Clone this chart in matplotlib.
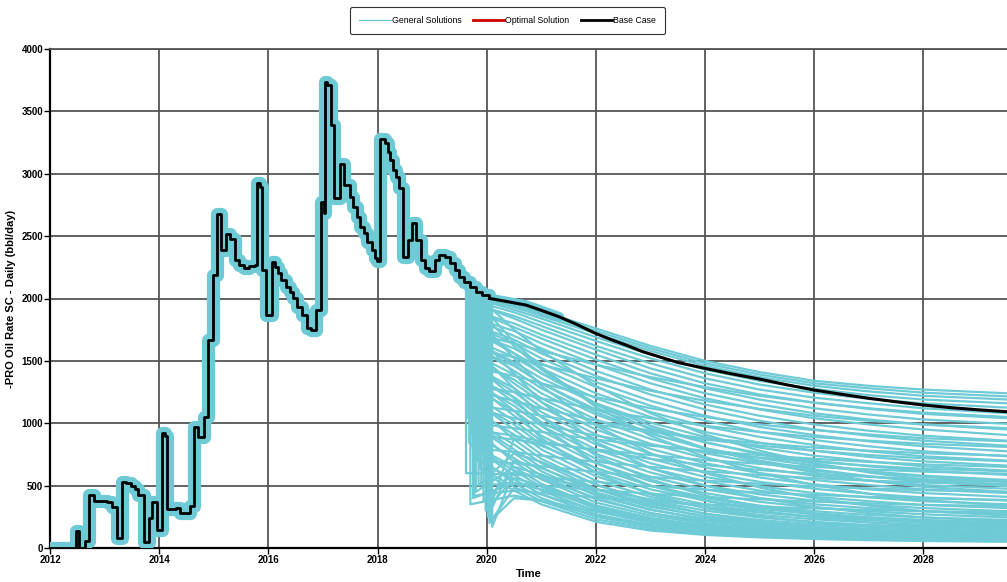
import numpy as np
import matplotlib
matplotlib.use("Agg")
import matplotlib.pyplot as plt
from matplotlib.lines import Line2D

# ---------------- data ----------------
HIST_YEARS = [2012.00, 2012.48, 2012.54, 2012.64, 2012.72, 2012.80, 2013.04, 2013.13, 2013.22, 2013.31,
              2013.40, 2013.48, 2013.55, 2013.62, 2013.72, 2013.81, 2013.87, 2013.96, 2014.05, 2014.10,
              2014.15, 2014.30, 2014.38, 2014.45, 2014.56, 2014.64, 2014.71, 2014.82, 2014.90, 2014.98,
              2015.05, 2015.14, 2015.22, 2015.29, 2015.38, 2015.47, 2015.56, 2015.65, 2015.75, 2015.79,
              2015.84, 2015.89, 2015.96, 2016.06, 2016.12, 2016.18, 2016.24, 2016.32, 2016.40, 2016.46,
              2016.52, 2016.61, 2016.70, 2016.79, 2016.88, 2016.97, 2017.01, 2017.03, 2017.08, 2017.14,
              2017.21, 2017.31, 2017.38, 2017.49, 2017.55, 2017.62, 2017.68, 2017.76, 2017.80, 2017.89,
              2017.95, 2017.99, 2018.04, 2018.13, 2018.19, 2018.23, 2018.29, 2018.34, 2018.40, 2018.46,
              2018.56, 2018.64, 2018.71, 2018.80, 2018.86, 2018.94, 2019.06, 2019.13, 2019.23, 2019.32,
              2019.41, 2019.50, 2019.59, 2019.70, 2019.81, 2019.92, 2020.05]
HIST_RATE = [0, 140, 0, 56, 425, 378, 370, 330, 80, 530,
             520, 500, 475, 425, 50, 240, 370, 144, 920, 900,
             312, 320, 283, 280, 336, 972, 890, 1052, 1667, 2188,
             2676, 2388, 2516, 2476, 2308, 2268, 2246, 2260, 2268, 2927,
             2895, 2228, 1867, 2294, 2254, 2203, 2147, 2094, 2054, 2003,
             1934, 1867, 1760, 1747, 1907, 2775, 2684, 3737, 3710, 3389,
             2802, 3082, 2909, 2815, 2735, 2655, 2575, 2524, 2455, 2388,
             2321, 2300, 3275, 3243, 3176, 3109, 3029, 2975, 2882, 2334,
             2468, 2602, 2468, 2308, 2241, 2220, 2308, 2348, 2334, 2281,
             2228, 2174, 2134, 2094, 2054, 2030, 2001]

BASE_FC_YEARS = [2020.05, 2020.25, 2020.50, 2020.72, 2021.00, 2021.33, 2021.66, 2021.97, 2022.25, 2022.55,
                 2022.85, 2023.16, 2023.50, 2024.00, 2024.50, 2025.00, 2025.50, 2026.00, 2026.50, 2027.00,
                 2027.50, 2028.00, 2028.50, 2029.00, 2029.55]
BASE_FC_RATE = [2001, 1985, 1965, 1947, 1905, 1853, 1790, 1725, 1675, 1627,
                1575, 1533, 1487, 1440, 1395, 1354, 1308, 1266, 1232, 1200,
                1172, 1146, 1125, 1108, 1092]

# general solutions: year each leaves the history, rate right after leaving,
# then rates at GEN_YEARS
GEN_YEARS = [2020.5, 2021, 2022, 2023, 2024, 2025, 2026, 2027, 2028, 2029.55]
GEN_BRANCH = [2020.00, 2019.97, 2019.93, 2019.88, 2019.84, 2019.80, 2019.95, 2019.76, 2019.90, 2019.72,
              2019.86, 2019.68, 2019.82, 2019.65, 2019.92, 2019.70, 2019.78, 2019.64, 2019.88, 2019.74,
              2019.66, 2019.96, 2019.69, 2019.80, 2019.63, 2019.85, 2019.72, 2019.67, 2019.90, 2019.75,
              2019.64, 2019.83, 2019.70, 2019.94, 2019.66, 2019.78, 2019.87, 2019.73, 2019.98, 2019.68,
              2019.81, 2019.92, 2019.76, 2020.00, 2019.88, 2019.96, 2020.05, 2020.10, 2019.98, 2020.02,
              2019.75, 2019.80, 2019.70, 2019.85,
              2019.64, 2019.71, 2019.79, 2019.86, 2019.93, 2019.67, 2019.74, 2019.82, 2019.62, 2019.90,
              2019.77, 2019.69, 2019.84, 2019.95, 2019.73,
              2019.99, 2019.91, 2019.83, 2019.78, 2020.01, 2019.71, 2019.65, 2019.96, 2019.87, 2019.80,
              2020.03, 2020.07, 2019.94]
GEN_RATES = [
    [2030, 1970, 1900, 1760, 1620, 1500, 1410, 1340, 1300, 1270, 1240],
    [2020, 1950, 1880, 1740, 1600, 1480, 1390, 1320, 1280, 1245, 1215],
    [2010, 1930, 1860, 1720, 1580, 1460, 1370, 1300, 1255, 1220, 1190],
    [1990, 1910, 1840, 1690, 1550, 1430, 1340, 1275, 1225, 1190, 1160],
    [1970, 1890, 1810, 1660, 1520, 1400, 1310, 1245, 1195, 1160, 1125],
    [1950, 1860, 1780, 1620, 1480, 1360, 1270, 1205, 1160, 1120, 1080],
    [1930, 1840, 1750, 1590, 1440, 1320, 1230, 1165, 1115, 1075, 1040],
    [1900, 1800, 1710, 1550, 1400, 1280, 1190, 1120, 1070, 1030, 995],
    [1880, 1770, 1680, 1510, 1360, 1240, 1150, 1080, 1030, 990, 950],
    [1850, 1740, 1640, 1470, 1320, 1200, 1110, 1040, 990, 950, 905],
    [1820, 1700, 1600, 1420, 1270, 1150, 1060, 990, 940, 900, 860],
    [1800, 1670, 1560, 1380, 1230, 1110, 1020, 950, 900, 860, 820],
    [1770, 1640, 1520, 1330, 1180, 1060, 970, 905, 855, 815, 775],
    [1740, 1600, 1480, 1290, 1140, 1020, 930, 865, 815, 775, 735],
    [1700, 1560, 1440, 1240, 1090, 975, 890, 825, 775, 735, 700],
    [1680, 1530, 1400, 1200, 1050, 930, 845, 780, 730, 695, 660],
    [1650, 1490, 1360, 1160, 1005, 890, 805, 740, 695, 655, 620],
    [1620, 1460, 1320, 1110, 960, 845, 760, 700, 655, 620, 585],
    [1590, 1420, 1280, 1070, 915, 800, 720, 660, 615, 580, 545],
    [1560, 1390, 1240, 1030, 875, 760, 680, 620, 575, 540, 510],
    [1530, 1350, 1200, 990, 835, 720, 640, 580, 540, 505, 475],
    [1500, 1320, 1170, 950, 795, 680, 600, 545, 505, 470, 440],
    [1470, 1280, 1130, 910, 755, 645, 565, 510, 470, 440, 410],
    [1440, 1250, 1090, 870, 715, 605, 530, 475, 435, 405, 380],
    [1400, 1210, 1050, 830, 680, 570, 495, 440, 405, 375, 350],
    [1370, 1170, 1010, 790, 640, 535, 460, 410, 375, 345, 320],
    [1340, 1140, 980, 755, 605, 500, 430, 380, 345, 320, 295],
    [1300, 1100, 940, 715, 570, 470, 400, 350, 320, 295, 270],
    [1270, 1060, 900, 680, 535, 440, 370, 325, 295, 270, 245],
    [1230, 1020, 860, 640, 500, 405, 340, 295, 265, 245, 225],
    [1200, 990, 830, 610, 470, 380, 315, 270, 245, 225, 205],
    [1160, 950, 790, 575, 440, 350, 290, 250, 225, 205, 185],
    [1120, 910, 750, 540, 410, 325, 265, 230, 205, 185, 170],
    [1080, 870, 715, 505, 380, 300, 245, 210, 185, 170, 155],
    [1040, 830, 680, 475, 355, 275, 225, 190, 170, 155, 140],
    [1000, 790, 645, 445, 330, 255, 205, 175, 155, 140, 130],
    [960, 760, 615, 420, 305, 235, 190, 160, 140, 128, 118],
    [920, 720, 580, 390, 280, 215, 175, 145, 128, 115, 105],
    [880, 690, 550, 365, 260, 195, 160, 132, 115, 105, 95],
    [840, 650, 515, 340, 240, 180, 145, 120, 105, 95, 85],
    [800, 620, 490, 315, 220, 165, 130, 110, 95, 85, 78],
    [760, 585, 460, 295, 200, 150, 118, 100, 88, 78, 70],
    [720, 550, 430, 270, 185, 138, 108, 92, 80, 72, 65],
    [680, 520, 400, 250, 170, 125, 100, 85, 74, 66, 60],
    [640, 490, 375, 230, 155, 115, 92, 78, 68, 60, 55],
    [600, 460, 350, 210, 140, 105, 85, 72, 63, 56, 50],
    [200, 480, 430, 300, 210, 150, 115, 95, 80, 70, 62],
    [170, 620, 560, 400, 280, 200, 150, 120, 100, 88, 78],
    [300, 560, 500, 340, 240, 170, 130, 105, 90, 80, 70],
    [250, 700, 640, 470, 340, 250, 190, 150, 125, 110, 95],
    [400, 520, 470, 330, 230, 165, 125, 100, 85, 75, 66],
    [450, 650, 590, 430, 310, 225, 170, 135, 112, 98, 86],
    [350, 420, 380, 260, 180, 130, 100, 82, 70, 62, 56],
    [500, 760, 690, 510, 370, 275, 210, 170, 140, 122, 108],
    [1300, 1250, 1200, 1110, 1040, 980, 930, 890, 860, 835, 810],
    [1150, 1100, 1060, 990, 930, 880, 840, 805, 780, 760, 740],
    [1000, 960, 930, 870, 820, 780, 745, 715, 690, 670, 650],
    [900, 870, 840, 790, 745, 705, 675, 650, 630, 612, 595],
    [1700, 1640, 1580, 1470, 1370, 1290, 1220, 1165, 1120, 1085, 1050],
    [1600, 1530, 1470, 1360, 1260, 1180, 1115, 1060, 1020, 990, 960],
    [800, 770, 740, 690, 650, 615, 585, 560, 540, 525, 510],
    [700, 680, 655, 610, 570, 540, 515, 495, 478, 463, 450],
    [600, 590, 570, 530, 495, 468, 445, 425, 410, 398, 385],
    [500, 520, 500, 465, 435, 410, 390, 372, 358, 346, 335],
    [420, 460, 440, 405, 375, 350, 332, 317, 305, 295, 285],
    [1450, 1380, 1320, 1210, 1120, 1050, 990, 945, 910, 880, 855],
    [1250, 1180, 1120, 1020, 940, 870, 820, 780, 745, 720, 695],
    [1100, 1040, 990, 900, 830, 770, 725, 690, 660, 635, 615],
    [950, 900, 855, 780, 715, 665, 625, 595, 570, 550, 530],
    [1900, 1650, 1450, 1130, 900, 730, 600, 505, 435, 385, 340],
    [1800, 1520, 1300, 980, 760, 600, 485, 400, 340, 295, 260],
    [1700, 1400, 1170, 850, 640, 500, 400, 330, 280, 245, 215],
    [1600, 1280, 1050, 740, 550, 420, 330, 270, 230, 200, 175],
    [1950, 1750, 1580, 1300, 1080, 910, 780, 680, 605, 550, 500],
    [1500, 1200, 980, 680, 500, 380, 300, 245, 205, 180, 160],
    [1400, 1100, 880, 600, 430, 320, 250, 205, 175, 155, 140],
    [1850, 1620, 1430, 1150, 950, 800, 690, 605, 540, 490, 450],
    [1750, 1560, 1400, 1160, 980, 850, 750, 675, 615, 570, 530],
    [1650, 1470, 1320, 1090, 920, 795, 700, 630, 575, 530, 495],
    [280, 880, 820, 640, 500, 400, 330, 280, 245, 220, 200],
    [220, 400, 380, 290, 220, 170, 135, 110, 95, 85, 78],
    [380, 600, 570, 470, 390, 330, 285, 250, 225, 205, 190],
]

X_TICKS = [2012, 2014, 2016, 2018, 2020, 2022, 2024, 2026, 2028]
Y_TICKS = [0, 500, 1000, 1500, 2000, 2500, 3000, 3500, 4000]
LEGEND_LABELS = ["General Solutions", "Optimal Solution", "Base Case"]

# ---------------- plot ----------------
CYAN = "#6ECBD6"
plt.rcParams["font.family"] = ["Liberation Sans", "DejaVu Sans"]

fig = plt.figure(figsize=(10.07, 5.82), dpi=100)
ax = fig.add_axes([50 / 1007, 1 - 548 / 582, 1 - 50 / 1007, (548 - 49) / 582])

hist_x = np.array(HIST_YEARS)
hist_y = np.array(HIST_RATE)

def rate_at(t):
    idx = np.searchsorted(hist_x, t, side="right") - 1
    idx = max(0, min(idx, len(hist_y) - 1))
    return hist_y[idx]

# general solutions in forecast
for b, vals in zip(GEN_BRANCH, GEN_RATES):
    xs = [b, b] + GEN_YEARS
    ys = [rate_at(b), vals[0]] + vals[1:]
    ax.plot(xs, ys, color=CYAN, lw=1.6, zorder=2, solid_joinstyle="round")

# history band of general solutions
ax.plot(hist_x, hist_y, drawstyle="steps-post", color=CYAN, lw=9.5,
        solid_joinstyle="round", solid_capstyle="round", zorder=3)
ax.plot(BASE_FC_YEARS[:6], BASE_FC_RATE[:6], color=CYAN, lw=7, zorder=3,
        solid_capstyle="round")

# base case
ax.plot(hist_x, hist_y, drawstyle="steps-post", color="black", lw=2, zorder=5)
ax.plot(BASE_FC_YEARS, BASE_FC_RATE, color="black", lw=2.2, zorder=5)

ax.set_xlim(2012, 2029.53)
ax.set_ylim(0, 4000)
ax.set_xticks(X_TICKS)
ax.set_yticks(Y_TICKS)
ax.set_xticklabels([str(t) for t in X_TICKS], fontsize=7, fontweight="bold")
ax.set_yticklabels([str(t) for t in Y_TICKS], fontsize=7, fontweight="bold")
ax.tick_params(direction="out", length=4, width=1, pad=1)
ax.grid(True, color="#555555", lw=1.3, zorder=1)
ax.set_axisbelow(True)
ax.spines["right"].set_visible(False)
ax.spines["top"].set_color("#555555")
ax.spines["top"].set_linewidth(1.3)
ax.spines["left"].set_linewidth(1.6)
ax.spines["bottom"].set_linewidth(1.6)
ax.set_ylabel("-PRO Oil Rate SC - Daily (bbl/day)", fontsize=8, fontweight="bold", labelpad=4)
ax.set_xlabel("Time", fontsize=8, fontweight="bold", labelpad=3)

handles = [Line2D([], [], color=CYAN, lw=1),
           Line2D([], [], color="#CC0000", lw=2),
           Line2D([], [], color="black", lw=2)]
leg = fig.legend(handles, LEGEND_LABELS, loc="upper center", bbox_to_anchor=(0.504, 0.995),
                 ncol=3, fontsize=6.3, frameon=True, fancybox=True, handlelength=3.6,
                 handletextpad=0.1, columnspacing=1.3, borderpad=1.0)
leg.get_frame().set_edgecolor("black")
leg.get_frame().set_linewidth(0.8)

fig.savefig("out.png", dpi=100)
